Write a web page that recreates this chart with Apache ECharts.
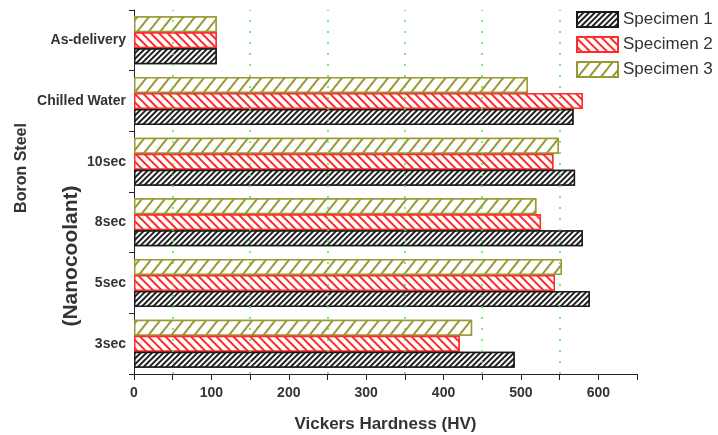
<!DOCTYPE html>
<html>
<head>
<meta charset="utf-8">
<script src="https://cdn.jsdelivr.net/npm/echarts@6/dist/echarts.min.js"></script>
<style>html,body{margin:0;padding:0;background:#fff}#c{width:718px;height:435px}</style>
</head>
<body>
<div id="c"></div>
<script>
const categories = ['3sec', '5sec', '8sec', '10sec', 'Chilled Water', 'As-delivery'];
const specimen1 = [492, 589, 580, 570, 568, 107];
const specimen2 = [421, 544, 526, 542, 580, 107];
const specimen3 = [437, 553, 520, 549, 509, 107];
const seriesNames = ['Specimen 1', 'Specimen 2', 'Specimen 3'];
const gridValues = [50, 150, 250, 350, 450, 550];
const xTickLabels = [0, 100, 200, 300, 400, 500, 600];

const FONT = 'Liberation Sans, Arial, sans-serif';
const chart = echarts.init(document.getElementById('c'), null, {renderer: 'canvas'});

function barSeries(name, data, border, decalColor, dashY, rot) {
  return {
    name: name,
    type: 'bar',
    data: data,
    barWidth: 16,
    barGap: '0%',
    itemStyle: {
      color: '#ffffff',
      borderColor: border,
      borderWidth: 1.5,
      decal: {
        symbol: 'rect',
        symbolSize: 1,
        dashArrayX: [1, 0],
        dashArrayY: dashY,
        rotation: rot,
        color: decalColor,
        backgroundColor: '#ffffff'
      }
    },
    emphasis: {disabled: true}
  };
}

const s1 = barSeries(seriesNames[0], specimen1, '#1a1a1a', '#222222', [1.2, 1.8], -Math.PI / 4);
const s2 = barSeries(seriesNames[1], specimen2, '#ff2a2a', '#ff2a2a', [1.2, 3.5], Math.PI / 4);
const s3 = barSeries(seriesNames[2], specimen3, '#999933', '#999933', [1.2, 7], -Math.PI / 3.5);
s1.markLine = {
  silent: true,
  symbol: ['none', 'none'],
  label: {show: false},
  lineStyle: {color: '#3cf03c', type: [2, 9], width: 1.5},
  data: gridValues.map(v => ({xAxis: v}))
};

chart.setOption({
  animation: false,
  backgroundColor: '#ffffff',
  textStyle: {fontFamily: FONT},
  grid: {left: 134, right: 81, top: 10, bottom: 61, containLabel: false, outerBoundsMode: 'none'},
  legend: {
    orient: 'vertical',
    left: 576,
    top: 11,
    padding: 0,
    itemWidth: 41,
    itemHeight: 15,
    itemGap: 8,
    icon: 'rect',
    textStyle: {fontSize: 17, color: '#333', fontFamily: FONT},
    data: seriesNames
  },
  xAxis: {
    type: 'value',
    min: 0,
    max: 650,
    interval: 50,
    name: 'Vickers Hardness (HV)',
    nameLocation: 'middle',
    nameGap: 42,
    nameTextStyle: {fontSize: 17, fontWeight: 'bold', color: '#333', fontFamily: FONT},
    axisLine: {show: true, lineStyle: {color: '#222', width: 1}},
    axisTick: {show: true, length: 6, lineStyle: {color: '#222'}},
    axisLabel: {
      margin: 12,
      fontSize: 14,
      fontWeight: 'bold',
      color: '#333',
      formatter: v => (xTickLabels.indexOf(v) >= 0 ? String(v) : '')
    },
    splitLine: {show: false}
  },
  yAxis: {
    type: 'category',
    data: categories,
    axisLine: {show: true, lineStyle: {color: '#222', width: 1}},
    axisTick: {show: true, length: 5, lineStyle: {color: '#222'}},
    axisLabel: {margin: 8, fontSize: 14, fontWeight: 'bold', color: '#333'},
    splitLine: {show: false}
  },
  graphic: [
    {
      type: 'text',
      x: 22, y: 168,
      rotation: Math.PI / 2,
      style: {text: 'Boron Steel', fontSize: 16, fontWeight: 'bold', fill: '#333', fontFamily: FONT, align: 'center', verticalAlign: 'middle'}
    },
    {
      type: 'text',
      x: 71, y: 256,
      rotation: Math.PI / 2,
      style: {text: '(Nanocoolant)', fontSize: 21, fontWeight: 'bold', fill: '#333', fontFamily: FONT, align: 'center', verticalAlign: 'middle'}
    }
  ],
  series: [s3, s2, s1]
});
</script>
</body>
</html>
